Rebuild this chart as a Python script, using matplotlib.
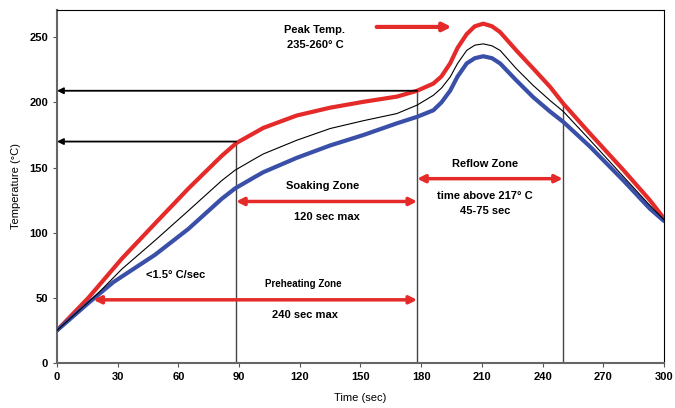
import matplotlib
matplotlib.use('Agg')
import matplotlib.pyplot as plt

plt.rcParams['font.family'] = ['Liberation Sans Narrow', 'Liberation Sans', 'DejaVu Sans']
plt.rcParams['font.weight'] = 'bold'

# profile curves (time in sec, temperature in deg C)
t_upper = [0, 15.5, 32, 48.4, 65, 81.4, 88.8, 98, 102, 118.5, 135, 151.4, 168, 178, 186, 190, 194.3,
           198, 202.5, 206.5, 210.7, 215, 219, 227, 235.4, 243.7, 250.3, 263.5, 280, 293, 300]
upper = [25, 50, 80, 107, 134, 159, 169, 177, 180.5, 190, 196, 200.5, 204.5, 209, 214.5, 220, 230,
         242, 252.5, 258.5, 260.5, 258.5, 254, 240, 226, 212, 199, 176, 148, 125, 111]

t_middle = [0, 10, 20, 32, 48.4, 65, 81.4, 88, 98, 102, 118.5, 135, 151.4, 168, 178, 186, 190, 194.3,
            198, 202.5, 206.5, 210.7, 215, 219, 227, 235.4, 243.7, 250.3, 263.5, 280, 293, 300]
middle = [25, 39, 53, 72, 94, 117, 140, 148, 157, 160.5, 171, 180, 186, 191.5, 198, 205.5, 211, 219.5,
          230, 240, 244, 245, 243.5, 240, 226, 213, 201.5, 193, 171, 143, 121, 110]

t_lower = [0, 15.5, 27.8, 48.4, 65, 81.4, 88, 98, 102, 118.5, 135, 151.4, 168, 178, 186, 190, 194.3,
           198, 202.5, 206.5, 210.7, 215, 219, 227, 235.4, 243.7, 250.3, 263.5, 280, 293, 300]
lower = [25, 46, 62, 83, 103, 126, 134, 143, 146.5, 157.5, 167, 175, 184, 189, 194, 200, 209,
         220, 230, 234, 235.5, 234, 230, 217, 204, 193, 185, 166, 140, 118.5, 109]

# zone boundaries
soak_start, soak_end, reflow_end = 88.5, 178, 250
soak_temp, reflow_temp, reflow_end_temp = 170, 209, 199
preheat_start = 18

xticks = list(range(0, 301, 30))
yticks = list(range(0, 251, 50))

RED = '#e52a2a'
BLUE = '#3a4fa8'

fig = plt.figure(figsize=(6.75, 4.08), dpi=100)
ax = fig.add_axes([0.0844, 0.1103, 0.8993, 0.8652])

ax.plot(t_upper, upper, color=RED, lw=3, solid_capstyle='round', solid_joinstyle='round', zorder=3)
ax.plot(t_lower, lower, color=BLUE, lw=3, solid_capstyle='round', solid_joinstyle='round', zorder=3)
ax.plot(t_middle, middle, color='black', lw=0.8, solid_joinstyle='round', zorder=4)

# vertical zone lines
ax.plot([soak_start, soak_start], [0, soak_temp], color='#444444', lw=1)
ax.plot([soak_end, soak_end], [0, reflow_temp], color='#444444', lw=1)
ax.plot([reflow_end, reflow_end], [0, reflow_end_temp], color='#444444', lw=1)

# black arrows to the axis
blk = dict(arrowstyle='-|>', color='black', lw=1.3, mutation_scale=9, shrinkA=0, shrinkB=0)
ax.annotate('', xy=(0, reflow_temp), xytext=(soak_end, reflow_temp), arrowprops=blk)
ax.annotate('', xy=(0, soak_temp), xytext=(soak_start, soak_temp), arrowprops=blk)

# red zone arrows
red2 = dict(arrowstyle='<|-|>', color=RED, lw=2.5, mutation_scale=11, shrinkA=0, shrinkB=0)
ax.annotate('', xy=(soak_start, 124), xytext=(soak_end, 124), arrowprops=red2)
ax.annotate('', xy=(preheat_start, 48.5), xytext=(soak_end, 48.5), arrowprops=red2)
ax.annotate('', xy=(soak_end, 141.5), xytext=(reflow_end, 141.5), arrowprops=red2)
red1 = dict(arrowstyle='-|>', color=RED, lw=3, mutation_scale=12, shrinkA=0, shrinkB=0)
ax.annotate('', xy=(195, 258), xytext=(158, 258), arrowprops=red1)

fs = 8
ax.text(127.5, 256, 'Peak Temp.', ha='center', va='center', fontsize=fs)
ax.text(127.5, 244, '235-260° C', ha='center', va='center', fontsize=fs)
ax.text(131.5, 135.7, 'Soaking Zone', ha='center', va='center', fontsize=fs)
ax.text(133.5, 112, '120 sec max', ha='center', va='center', fontsize=fs)
ax.text(211.6, 153, 'Reflow Zone', ha='center', va='center', fontsize=fs)
ax.text(211.6, 128, 'time above 217° C', ha='center', va='center', fontsize=fs)
ax.text(211.6, 116.6, '45-75 sec', ha='center', va='center', fontsize=fs)
ax.text(58.8, 67.5, '<1.5° C/sec', ha='center', va='center', fontsize=fs)
ax.text(121.6, 60.6, 'Preheating Zone', ha='center', va='center', fontsize=7)
ax.text(122.6, 36.8, '240 sec max', ha='center', va='center', fontsize=fs)

ax.set_xlim(0, 300)
ax.set_ylim(0, 271)
ax.set_xticks(xticks)
ax.set_yticks(yticks)
ax.tick_params(labelsize=8, length=3, direction='out', color='#555555')
ax.set_xlabel('Time (sec)', fontsize=8, labelpad=8)
ax.set_ylabel('Temperature (°C)', fontsize=8, labelpad=6)
for s in ['left', 'bottom']:
    ax.spines[s].set_color('#666666')
    ax.spines[s].set_linewidth(1.5)
for s in ['top', 'right']:
    ax.spines[s].set_color('black')
    ax.spines[s].set_linewidth(0.8)

plt.savefig('out.png', dpi=100)
